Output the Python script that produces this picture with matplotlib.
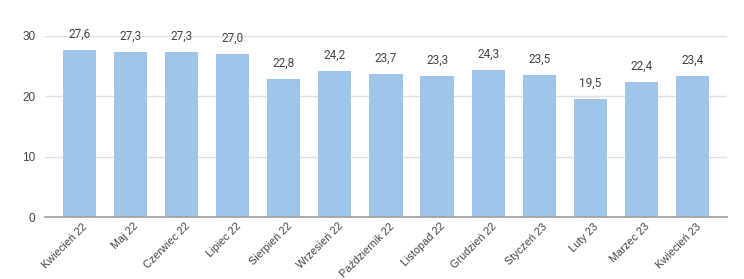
import matplotlib.pyplot as plt
import matplotlib.transforms as mtransforms
import numpy as np

months = ['Kwiecień 22', 'Maj 22', 'Czerwiec 22', 'Lipiec 22', 'Sierpień 22',
          'Wrzesień 22', 'Październik 22', 'Listopad 22', 'Grudzień 22',
          'Styczeń 23', 'Luty 23', 'Marzec 23', 'Kwiecień 23']
values = [27.6, 27.3, 27.3, 27.0, 22.8, 24.2, 23.7, 23.3, 24.3, 23.5, 19.5, 22.4, 23.4]
y_ticks = [0, 10, 20, 30]

plt.rcParams['font.family'] = ['Liberation Sans', 'DejaVu Sans']

fig = plt.figure(figsize=(7.44, 2.79), dpi=100)
ax = fig.add_axes([0.0605, 0.222, 0.9165, 0.649])

x = np.arange(len(months))
bars = ax.bar(x, values, width=0.65, color='#9fc5e8', zorder=2)

for xi, v in zip(x, values):
    ax.annotate(f'{v:.1f}'.replace('.', ','), (xi, v), xytext=(0, 11.5),
                textcoords='offset points', ha='center', va='center',
                fontsize=8.5, color='#444444', family=['Roboto', 'DejaVu Sans'],
                annotation_clip=False)

ax.set_xlim(-0.67, len(months) - 0.33)
ax.set_ylim(0, 30)
ax.set_yticks(y_ticks)
ax.yaxis.grid(True, color='#e0e0e0', linewidth=1, zorder=0)
ax.set_axisbelow(True)

for s in ['top', 'right', 'left']:
    ax.spines[s].set_visible(False)
ax.spines['bottom'].set_color('#9e9e9e')
ax.spines['bottom'].set_linewidth(1.2)
ax.spines['bottom'].set_zorder(3)

ax.tick_params(axis='y', length=0, pad=7, labelsize=8.5, labelcolor='#444444')
ax.tick_params(axis='x', length=0, pad=3, labelsize=7.8, labelcolor='#444444')
ax.set_xticks(x)
ax.set_xticklabels(months, rotation=45, ha='right', va='top', rotation_mode='anchor')
offset = mtransforms.ScaledTranslation(3 / 100, 0, fig.dpi_scale_trans)
for lbl in ax.get_xticklabels():
    lbl.set_transform(lbl.get_transform() + offset)

fig.savefig('out.png', dpi=100)
